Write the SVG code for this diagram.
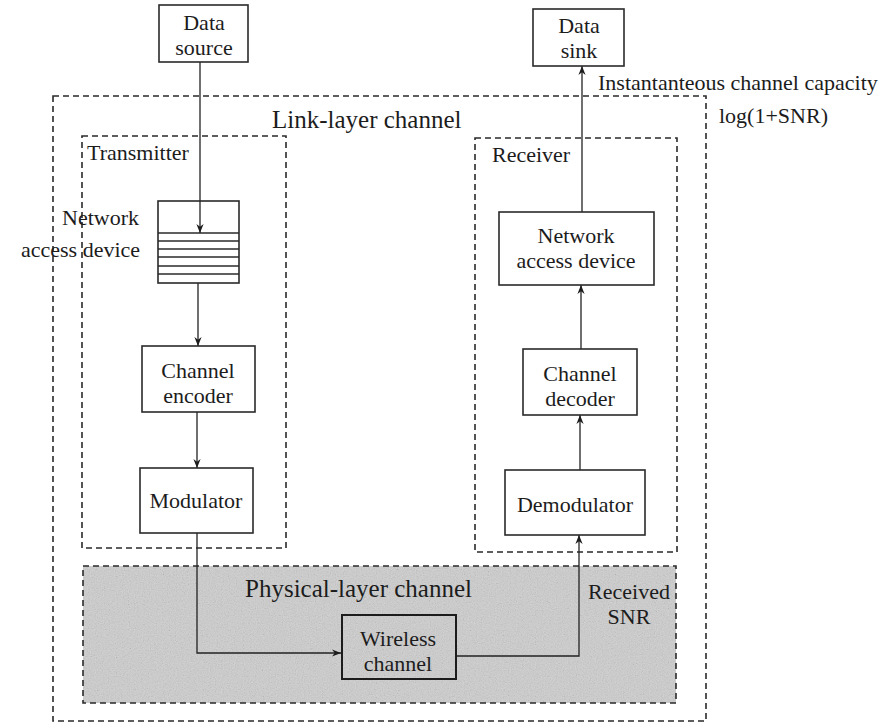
<svg xmlns="http://www.w3.org/2000/svg" width="896" height="724" viewBox="0 0 896 724" font-family="'Liberation Serif', 'Times New Roman', serif">
  <style>
    text { font-family: "Liberation Serif", "Times New Roman", serif; fill: #1c1c1c; }
    .lbl { font-size: 22px; }
    .mid { text-anchor: middle; }
    .title { font-size: 25px; }
    .box { fill: #ffffff; stroke: #2a2a2a; stroke-width: 1.6; }
    .dash { fill: none; stroke: #2a2a2a; stroke-width: 1.6; stroke-dasharray: 6 4; }
    .wire { fill: none; stroke: #222; stroke-width: 1.3; }
    .qline { stroke: #2a2a2a; stroke-width: 1.4; }
  </style>
  <defs>
    <marker id="arrow" viewBox="0 0 10 10" refX="10" refY="5" markerWidth="9" markerHeight="9" markerUnits="userSpaceOnUse" orient="auto">
      <path d="M0,1 L10,5 L0,9 L3,5 Z" fill="#1c1c1c"/>
    </marker>
    <filter id="grain" x="0" y="0" width="100%" height="100%">
      <feTurbulence type="fractalNoise" baseFrequency="0.85" numOctaves="2" seed="7" result="noise"/>
      <feColorMatrix in="noise" type="matrix" values="0.5 0.5 0 0 -0.2  0.5 0.5 0 0 -0.2  0.5 0.5 0 0 -0.2  0 0 0 0 0.18"/>
    </filter>
  </defs>

  <rect width="896" height="724" fill="#ffffff"/>

  <!-- shaded physical-layer region -->
  <g id="physical-layer">
    <rect x="83" y="566" width="593" height="137" fill="#d6d6d6"/>
    <rect x="83" y="566" width="593" height="137" fill="#000" filter="url(#grain)"/>
    <rect class="dash" x="83" y="566" width="593" height="137"/>
    <text class="title" x="245" y="597">Physical-layer channel</text>
  </g>

  <!-- enclosing regions -->
  <g id="link-layer">
    <rect class="dash" x="53" y="96" width="653" height="625"/>
    <text class="title" x="272" y="128">Link-layer channel</text>
  </g>
  <g id="transmitter">
    <rect class="dash" x="82" y="136" width="204" height="412"/>
    <text class="lbl" x="87" y="160">Transmitter</text>
  </g>
  <g id="receiver">
    <rect class="dash" x="475" y="138" width="202" height="414"/>
    <text class="lbl" x="492" y="162">Receiver</text>
  </g>

  <!-- connectors -->
  <g id="connectors">
    <line class="wire" x1="200" y1="62" x2="200" y2="233" marker-end="url(#arrow)"/>
    <line class="wire" x1="198" y1="283" x2="198" y2="346" marker-end="url(#arrow)"/>
    <line class="wire" x1="197" y1="412" x2="197" y2="468" marker-end="url(#arrow)"/>
    <polyline class="wire" points="197,533 197,653 341,653" marker-end="url(#arrow)"/>
    <polyline class="wire" points="456,656 579,656 579,535" marker-end="url(#arrow)"/>
    <line class="wire" x1="580" y1="470" x2="580" y2="415" marker-end="url(#arrow)"/>
    <line class="wire" x1="581" y1="349" x2="581" y2="285" marker-end="url(#arrow)"/>
    <line class="wire" x1="582" y1="212" x2="582" y2="66" marker-end="url(#arrow)"/>
  </g>

  <!-- nodes -->
  <g id="data-source">
    <rect class="box" x="159" y="5" width="89" height="57"/>
    <text class="lbl mid" x="204" y="30">Data</text>
    <text class="lbl mid" x="204" y="55">source</text>
  </g>

  <g id="data-sink">
    <rect class="box" x="533" y="9" width="91" height="57"/>
    <text class="lbl mid" x="579" y="33">Data</text>
    <text class="lbl mid" x="579" y="58">sink</text>
  </g>

  <g id="capacity-label">
    <text class="lbl" x="598" y="90">Instantanteous channel capacity</text>
    <text class="lbl" x="719" y="123">log(1+SNR)</text>
  </g>

  <g id="tx-queue">
    <rect class="box" x="158" y="201" width="81" height="82" fill="none"/>
    <line class="qline" x1="158" y1="233" x2="239" y2="233"/>
    <line class="qline" x1="158" y1="241" x2="239" y2="241"/>
    <line class="qline" x1="158" y1="249" x2="239" y2="249"/>
    <line class="qline" x1="158" y1="257" x2="239" y2="257"/>
    <line class="qline" x1="158" y1="266" x2="239" y2="266"/>
    <line class="qline" x1="158" y1="274" x2="239" y2="274"/>
    <line class="wire" x1="200" y1="201" x2="200" y2="233" marker-end="url(#arrow)"/>
    <text class="lbl" x="62" y="225">Network</text>
    <text class="lbl" x="21" y="257">access device</text>
  </g>

  <g id="channel-encoder">
    <rect class="box" x="142" y="346" width="113" height="66"/>
    <text class="lbl mid" x="198" y="378">Channel</text>
    <text class="lbl mid" x="198" y="403">encoder</text>
  </g>

  <g id="modulator">
    <rect class="box" x="140" y="468" width="113" height="65"/>
    <text class="lbl mid" x="196" y="508">Modulator</text>
  </g>

  <g id="wireless-channel">
    <rect x="342" y="615" width="114" height="64" fill="none" stroke="#1c1c1c" stroke-width="2"/>
    <text class="lbl mid" x="398" y="646">Wireless</text>
    <text class="lbl mid" x="398" y="671">channel</text>
  </g>

  <g id="received-snr">
    <text class="lbl mid" x="629" y="599">Received</text>
    <text class="lbl mid" x="629" y="624">SNR</text>
  </g>

  <g id="demodulator">
    <rect class="box" x="505" y="470" width="140" height="65"/>
    <text class="lbl mid" x="575" y="512">Demodulator</text>
  </g>

  <g id="channel-decoder">
    <rect class="box" x="523" y="349" width="114" height="66"/>
    <text class="lbl mid" x="580" y="381">Channel</text>
    <text class="lbl mid" x="580" y="406">decoder</text>
  </g>

  <g id="rx-access-device">
    <rect class="box" x="499" y="212" width="155" height="73"/>
    <text class="lbl mid" x="576" y="243">Network</text>
    <text class="lbl mid" x="576" y="268">access device</text>
  </g>
</svg>
